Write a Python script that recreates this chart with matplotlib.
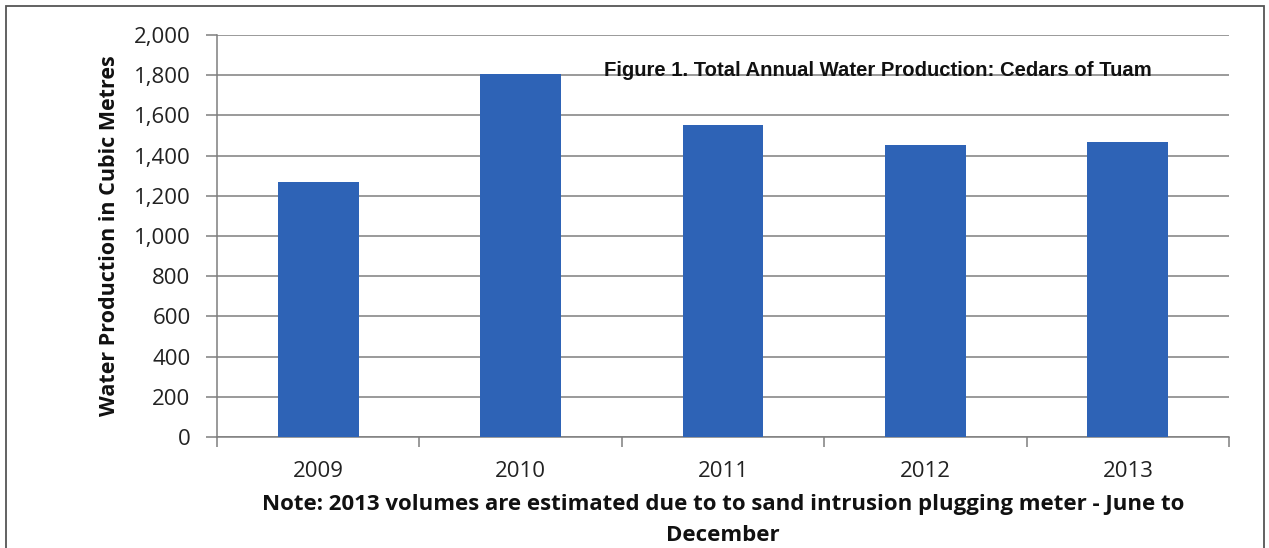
import numpy as np
import matplotlib.pyplot as plt
from matplotlib.patches import Rectangle
from matplotlib.ticker import FuncFormatter, FixedLocator

# Annual water production (cubic metres)
years = ['2009', '2010', '2011', '2012', '2013']
production = [1268, 1805, 1551, 1452, 1466]

title = 'Figure 1. Total Annual Water Production: Cedars of Tuam'
note = ('Note: 2013 volumes are estimated due to to sand intrusion plugging meter - June to\n'
        'December')

fig = plt.figure(figsize=(12.69, 5.48), dpi=100)
ax = fig.add_axes([0.171, 0.2026, 0.7975, 0.7334])

x = np.arange(len(years))
ax.bar(x, production, width=0.4, color='#2E63B6', zorder=3)

ax.set_xlim(-0.5, len(years) - 0.5)
ax.set_ylim(0, 2000)
ax.set_yticks(np.arange(0, 2001, 200))
ax.yaxis.set_major_formatter(FuncFormatter(lambda v, p: f'{int(v):,}'))
ax.yaxis.grid(True, color='#7f7f7f', linewidth=1.1, zorder=0)

# category labels centred, ticks on the boundaries between categories
ax.set_xticks(x)
ax.set_xticklabels(years)
ax.tick_params(axis='x', which='major', length=0, pad=17)
ax.xaxis.set_minor_locator(FixedLocator(np.arange(-0.5, len(years), 1.0)))
ax.tick_params(axis='x', which='minor', length=7, color='#7f7f7f', width=1.1)
ax.tick_params(axis='y', length=8, color='#7f7f7f', width=1.1, pad=11)

for lab in ax.get_xticklabels() + ax.get_yticklabels():
    lab.set_fontfamily('Open Sans')
    lab.set_fontsize(16)
    lab.set_color('#222222')

for side in ['top', 'right']:
    ax.spines[side].set_visible(False)
for side in ['left', 'bottom']:
    ax.spines[side].set_color('#7f7f7f')
    ax.spines[side].set_linewidth(1.1)

ax.set_ylabel('Water Production in Cubic Metres', fontfamily='Open Sans',
              fontweight='bold', fontsize=15.5, labelpad=10, color='#111111')
ax.set_xlabel(note, fontfamily='Open Sans', fontweight='bold', fontsize=16,
              labelpad=9, color='#111111', linespacing=1.6)

ax.text(0.382, 0.888, title, transform=ax.transAxes, fontfamily='Liberation Sans',
        fontweight='bold', fontsize=14.6, color='#111111', ha='left', va='bottom',
        zorder=4)

# outer frame around the chart
fig.patches.append(Rectangle((0.0047, -0.05), 0.991, 1.039, transform=fig.transFigure,
                             fill=False, edgecolor='#555555', linewidth=1.3))

fig.savefig('out.png', dpi=100)
